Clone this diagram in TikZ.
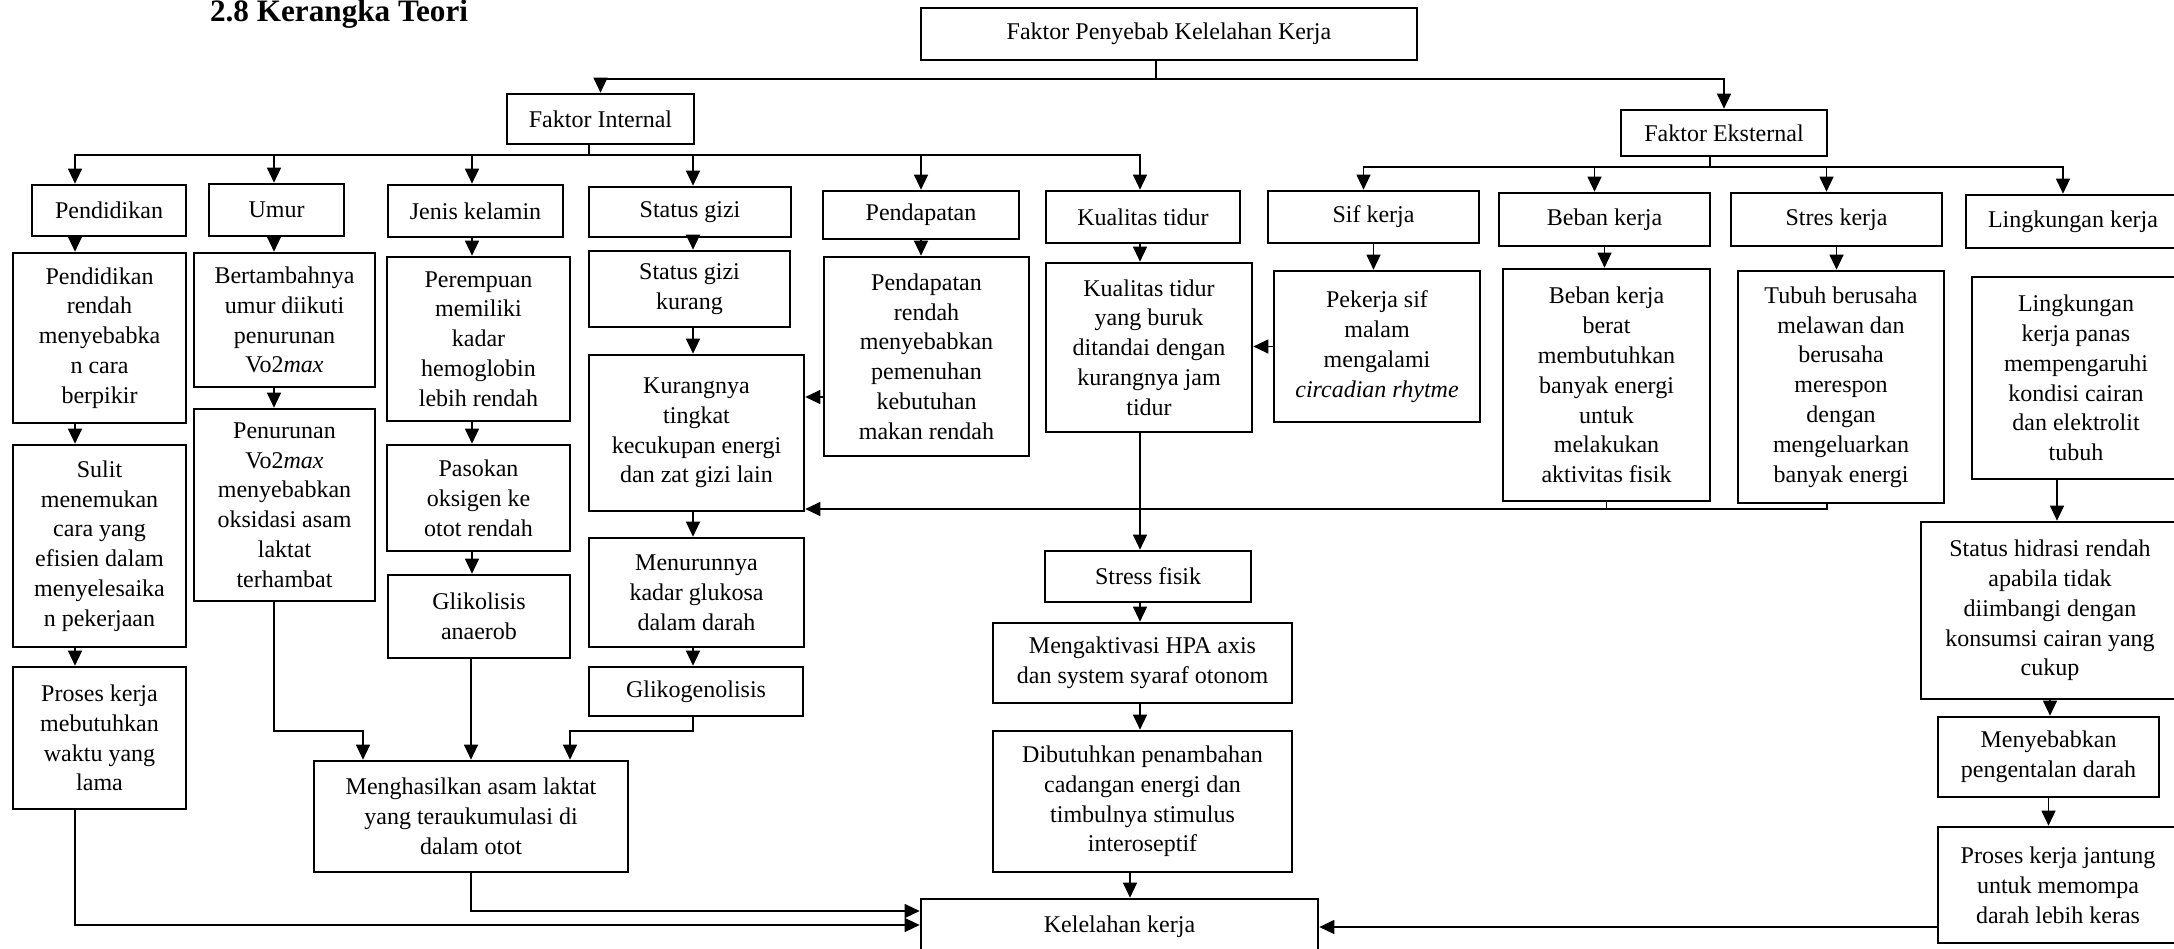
\documentclass[tikz,border=0pt]{standalone}
\usepackage{fontspec}
\setmainfont{Liberation Serif}
\usetikzlibrary{calc, arrows.meta}

\tikzset{
	kotak/.style={draw, line width=1.3pt, align=center, inner sep=1pt, font=\fontsize{12}{14.9}\selectfont},
	ukuran/.style 2 args={minimum width=#1*0.5pt, minimum height=#2*0.5pt},
	garis/.style={line width=0.55pt},
	panah/.style={line width=0.55pt, -{Triangle[length=7.5pt,width=7pt]}},
}

\begin{document}
\begin{tikzpicture}[x=0.5pt, y=-0.5pt]
	\useasboundingbox (0,0) rectangle (2174,948);
	\clip (0,0) rectangle (2174,948);

	\node[anchor=base west, font=\fontsize{15.6}{18}\selectfont\bfseries] (judul) at (203,21.7) {2.8 Kerangka Teori};

	% baris atas
	\node[kotak, ukuran={496}{52}] (penyebab) at (1169,34) {Faktor Penyebab Kelelahan Kerja};
	\node[kotak, ukuran={187}{50}] (internal) at (600.5,119) {Faktor Internal};
	\node[kotak, ukuran={206}{46}] (eksternal) at (1724,133) {Faktor Eksternal};

	\node[kotak, ukuran={154}{51}] (pendidikan) at (109,210.5) {Pendidikan};
	\node[kotak, ukuran={135}{52}] (umur) at (276.5,210) {Umur};
	\node[kotak, ukuran={175}{52}] (kelamin) at (475.5,211) {Jenis kelamin};
	\node[kotak, ukuran={202}{50}] (statusgizi) at (690,212) {Status gizi};
	\node[kotak, ukuran={196}{48}] (pendapatan) at (921,215) {Pendapatan};
	\node[kotak, ukuran={194}{52}] (kualitas) at (1143,217) {Kualitas tidur};
	\node[kotak, ukuran={211}{52}] (sif) at (1373.5,217) {Sif kerja};
	\node[kotak, ukuran={211}{53}] (beban) at (1604.5,219.5) {Beban kerja};
	\node[kotak, ukuran={211}{53}] (stres) at (1836.5,219.5) {Stres kerja};
	\node[kotak, ukuran={214}{53}] (lingkungan) at (2073,221.5) {Lingkungan kerja};

	% faktor internal
	\node[kotak, ukuran={173}{170}] (pendR) at (99.5,338) {Pendidikan\\rendah\\menyebabka\\n cara\\berpikir};
	\node[kotak, ukuran={173}{202}] (sulit) at (99.5,546) {Sulit\\menemukan\\cara yang\\efisien dalam\\menyelesaika\\n pekerjaan};
	\node[kotak, ukuran={173}{142}] (proses) at (99.5,738) {Proses kerja\\mebutuhkan\\waktu yang\\lama};
	\node[kotak, ukuran={181}{134}] (tambah) at (284.5,320) {Bertambahnya\\umur diikuti\\penurunan\\Vo2\textit{max}};
	\node[kotak, ukuran={181}{192}] (turunvo) at (284.5,505) {Penurunan\\Vo2\textit{max}\\menyebabkan\\oksidasi asam\\laktat\\terhambat};
	\node[kotak, ukuran={183}{164}] (perempuan) at (478.5,339) {Perempuan\\memiliki\\kadar\\hemoglobin\\lebih rendah};
	\node[kotak, ukuran={183}{106}] (pasokan) at (478.5,498) {Pasokan\\oksigen ke\\otot rendah};
	\node[kotak, ukuran={182}{83}] (glikolisis) at (479,616.5) {Glikolisis\\anaerob};
	\node[kotak, ukuran={201}{76}] (gizikurang) at (689.5,289) {Status gizi\\kurang};
	\node[kotak, ukuran={215}{156}] (kurangnya) at (696.5,433) {Kurangnya\\tingkat\\kecukupan energi\\dan zat gizi lain};
	\node[kotak, ukuran={215}{109}] (menurunnya) at (696.5,592.5) {Menurunnya\\kadar glukosa\\dalam darah};
	\node[kotak, ukuran={214}{49}] (glikogen) at (696,691.5) {Glikogenolisis};
	\node[kotak, ukuran={314}{111}] (hasil) at (471,816.5) {Menghasilkan asam laktat\\yang teraukumulasi di\\dalam otot};
	\node[kotak, ukuran={205}{199}] (pendR2) at (926.5,356.5) {Pendapatan\\rendah\\menyebabkan\\pemenuhan\\kebutuhan\\makan rendah};
	\node[kotak, ukuran={206}{169}] (tidurburuk) at (1149,347.5) {Kualitas tidur\\yang buruk\\ditandai dengan\\kurangnya jam\\tidur};
	\node[kotak, ukuran={206}{51}] (stresfisik) at (1148,576.5) {Stress fisik};
	\node[kotak, ukuran={299}{80}] (hpa) at (1142.5,663) {Mengaktivasi HPA axis\\dan system syaraf otonom};
	\node[kotak, ukuran={299}{141}] (dibutuhkan) at (1142.5,801.5) {Dibutuhkan penambahan\\cadangan energi dan\\timbulnya stimulus\\interoseptif};
	\node[kotak, ukuran={397}{56}] (lelah) at (1119.5,927) {Kelelahan kerja};

	% faktor eksternal
	\node[kotak, ukuran={206}{151}] (pekerja) at (1377,346.5) {Pekerja sif\\malam\\mengalami\\\textit{circadian rhytme}};
	\node[kotak, ukuran={207}{232}] (bebanberat) at (1606.5,385) {Beban kerja\\berat\\membutuhkan\\banyak energi\\untuk\\melakukan\\aktivitas fisik};
	\node[kotak, ukuran={206}{232}] (tubuh) at (1841,387) {Tubuh berusaha\\melawan dan\\berusaha\\merespon\\dengan\\mengeluarkan\\banyak energi};
	\node[kotak, ukuran={208}{202}] (lingkpanas) at (2076,378) {Lingkungan\\kerja panas\\mempengaruhi\\kondisi cairan\\dan elektrolit\\tubuh};
	\node[kotak, ukuran={258}{177}] (hidrasi) at (2050,610.5) {Status hidrasi rendah\\apabila tidak\\diimbangi dengan\\konsumsi cairan yang\\cukup};
	\node[kotak, ukuran={221}{80}] (sebab) at (2048.5,757) {Menyebabkan\\pengentalan darah};
	\node[kotak, ukuran={240}{116}] (jantung) at (2058,885) {Proses kerja jantung\\untuk memompa\\darah lebih keras};

	% jalur garis
	\coordinate (busA) at (0,79);
	\coordinate (busB) at (0,155);
	\coordinate (busC) at (0,167);
	\coordinate (barisA) at (0,397);
	\coordinate (barisB) at (0,509);
	\coordinate (barisC) at (0,731);
	\coordinate (barisD) at (0,911);
	\coordinate (barisE) at (0,925);
	\coordinate (kolT) at (1156,0);
	\coordinate (kolI) at (589,0);
	\coordinate (kolX) at (1710,0);
	\coordinate (kolA) at (75,0);
	\coordinate (kolB) at (274,0);
	\coordinate (kolC) at (472,0);
	\coordinate (kolD) at (693,0);
	\coordinate (kolE) at (1140,0);
	\coordinate (kolF) at (1130,0);
	\coordinate (kolG) at (2057,0);
	\coordinate (kolH) at (1827,0);
	\coordinate (kolM1) at (363,0);
	\coordinate (kolM2) at (570,0);

	\draw[garis] (penyebab.south-|kolT) -- (kolT|-busA);
	\draw[panah] (kolT|-busA) -| (internal.north);
	\draw[panah] (kolT|-busA) -| (eksternal.north);

	\draw[garis] (internal.south-|kolI) -- (kolI|-busB);
	\draw[panah] (kolI|-busB) -| (kolA|-pendidikan.north);
	\draw[panah] (kolI|-busB) -| (kolB|-umur.north);
	\draw[panah] (kolI|-busB) -| (kolC|-kelamin.north);
	\draw[panah] (kolI|-busB) -| (kolD|-statusgizi.north);
	\draw[panah] (kolI|-busB) -| (pendapatan.north);
	\draw[panah] (kolI|-busB) -| (kolE|-kualitas.north);

	\draw[garis] (eksternal.south-|kolX) -- (kolX|-busC);
	\foreach \n in {sif, beban, stres, lingkungan}
		\draw[panah] (kolX|-busC) -| ($(\n.north)+(-10,0)$);

	\foreach \a/\b in {pendidikan/pendR, pendR/sulit, sulit/proses}
		\draw[panah] (\a.south-|kolA) -- (\b.north-|kolA);
	\foreach \a/\b in {umur/tambah, tambah/turunvo}
		\draw[panah] (\a.south-|kolB) -- (\b.north-|kolB);
	\foreach \a/\b in {kelamin/perempuan, perempuan/pasokan, pasokan/glikolisis}
		\draw[panah] (\a.south-|kolC) -- (\b.north-|kolC);
	\foreach \a/\b in {statusgizi/gizikurang, gizikurang/kurangnya, kurangnya/menurunnya, menurunnya/glikogen}
		\draw[panah] (\a.south-|kolD) -- (\b.north-|kolD);
	\foreach \a/\b in {kualitas/tidurburuk, tidurburuk/stresfisik, stresfisik/hpa, hpa/dibutuhkan}
		\draw[panah] (\a.south-|kolE) -- (\b.north-|kolE);
	\draw[panah] (dibutuhkan.south-|kolF) -- (lelah.north-|kolF);
	\foreach \a/\b in {pendapatan/pendR2, sif/pekerja, beban/bebanberat, stres/tubuh, hidrasi/sebab, sebab/jantung}
		\draw[panah] (\a.south) -- (\a.south|-\b.north);
	\draw[panah] (lingkpanas.south-|kolG) -- (hidrasi.north-|kolG);

	\draw[panah] (pendR2.west|-barisA) -- (kurangnya.east|-barisA);
	\draw[panah] (pekerja.west) -- (tidurburuk.east|-pekerja.west);
	\draw[garis] (bebanberat.south) -- (bebanberat.south|-barisB);
	\draw[panah] (tubuh.south-|kolH) -- (kolH|-barisB) -- (kurangnya.east|-barisB);

	\draw[panah] (turunvo.south-|kolB) |- (kolM1|-barisC) -- (kolM1|-hasil.north);
	\draw[panah] (glikolisis.south-|hasil.north) -- (hasil.north);
	\draw[panah] (glikogen.south-|kolD) |- (kolM2|-barisC) -- (kolM2|-hasil.north);

	\draw[panah] (hasil.south) |- (lelah.west|-barisD);
	\draw[panah] (proses.south-|kolA) |- (lelah.west|-barisE);
	\draw[panah] (jantung.west|-lelah.east) -- (lelah.east);
\end{tikzpicture}
\end{document}
